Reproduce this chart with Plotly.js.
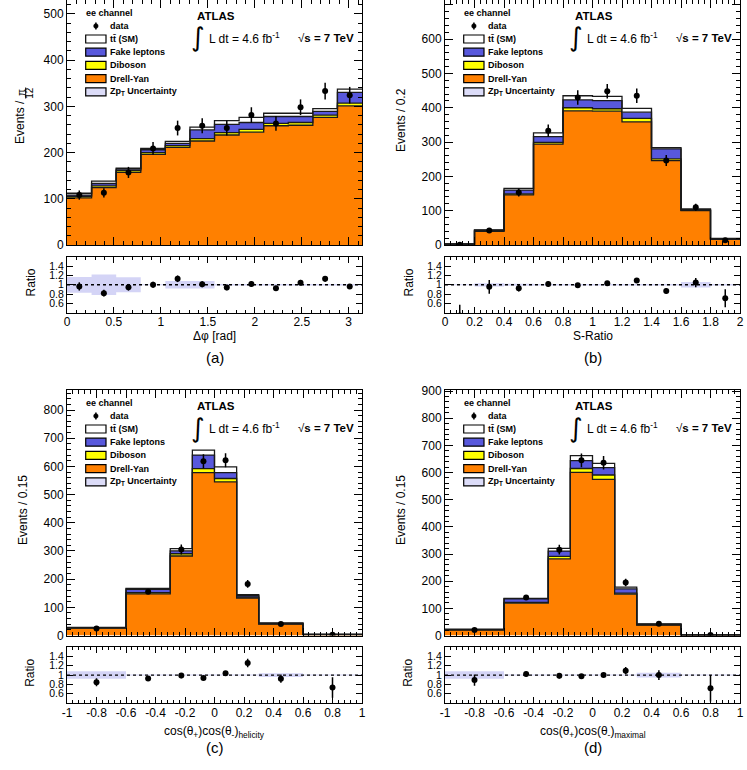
<!DOCTYPE html>
<html>
<head>
<meta charset="utf-8">
<script src="https://cdn.plot.ly/plotly-3.0.1.min.js"></script>
<style>
  html, body { margin: 0; padding: 0; background: #ffffff; }
  #chart { width: 747px; height: 770px; }
</style>
</head>
<body>
<div id="chart"></div>
<script>
// ---------------- data: (a) delta phi ----------------
const dphiEdges    = [0, 0.2618, 0.5236, 0.7854, 1.0472, 1.3090, 1.5708, 1.8326, 2.0944, 2.3562, 2.6180, 2.8798, 3.1416];
const dphiDrellYan = [102, 124, 157, 196, 211, 225, 238, 244, 258, 259, 276, 301];
const dphiDiboson  = [3, 4, 4, 4, 4, 5, 5, 6, 5, 6, 5, 6];
const dphiFake     = [3, 5, 3, 6, 5, 19, 18, 15, 15, 13, 8, 23];
const dphiTtbar    = [4, 5, 2, 3, 4, 6, 8, 11, 7, 7, 6, 7];
const dphiData     = [108, 113, 157, 209, 253, 258, 253, 281, 263, 298, 333, 324];
const dphiDataErr  = [10, 10, 12, 14, 16, 16, 16, 17, 16, 17, 18, 18];
const dphiZptUnc   = [0.17, 0.22, 0.16, 0.01, 0.08, 0.08, 0.015, 0.015, 0.015, 0.015, 0.015, 0.015];
const dphiTicks    = [0, 0.5, 1, 1.5, 2, 2.5, 3];
const dphiTickText = ['0', '0.5', '1', '1.5', '2', '2.5', '3'];

// ---------------- data: (b) S-Ratio ----------------
const sratioEdges    = [0, 0.2, 0.4, 0.6, 0.8, 1.0, 1.2, 1.4, 1.6, 1.8, 2.0];
const sratioDrellYan = [2.2, 40, 146, 294, 391, 390, 359, 246, 100, 16.5];
const sratioDiboson  = [0.2, 1, 3, 5, 9, 7, 10, 5, 1, 0.5];
const sratioFake     = [0.3, 2, 11, 17, 23, 24, 18, 29, 2, 1];
const sratioTtbar    = [0.3, 1, 5, 11, 12, 12, 11, 4, 2, 1];
const sratioData     = [1, 42, 153, 333, 430, 448, 435, 246, 110, 13.5];
const sratioDataErr  = [0.7, 6.5, 12, 18, 21, 21, 21, 16, 10.5, 3.7];
const sratioZptUnc   = [0.01, 0.035, 0.02, 0.015, 0.015, 0.015, 0.015, 0.015, 0.06, 0.015];
const sratioTicks    = [0, 0.2, 0.4, 0.6, 0.8, 1, 1.2, 1.4, 1.6, 1.8, 2];
const sratioTickText = ['0', '0.2', '0.4', '0.6', '0.8', '1', '1.2', '1.4', '1.6', '1.8', '2'];

// ---------------- data: (c) helicity basis ----------------
const cosEdges          = [-1, -0.6, -0.3, -0.15, 0, 0.15, 0.3, 0.6, 1];
const helicityDrellYan  = [26, 148, 282, 578, 545, 133, 40.5, 3.4];
const helicityDiboson   = [1, 4, 8, 14, 12, 3, 1, 0.2];
const helicityFake      = [1, 12, 10, 48, 21, 5, 1.5, 0.2];
const helicityTtbar     = [1, 3, 8, 18, 20, 4, 1.5, 0.3];
const helicityData      = [24.5, 155, 305, 618, 622, 183, 41, 3];
const helicityDataErr   = [2.5, 8, 17.5, 25, 25, 13.5, 4, 0.9];
const helicityZptUnc    = [0.08, 0.01, 0.01, 0.01, 0.01, 0.01, 0.04, 0.01];

// ---------------- data: (d) maximal basis ----------------
const maximalDrellYan   = [20.5, 119, 282, 601, 575, 152, 38.5, 1.7];
const maximalDiboson    = [0.5, 3, 9, 14, 16, 4, 1, 0.1];
const maximalFake       = [1, 13, 20, 29, 27, 16, 2, 0.1];
const maximalTtbar      = [1, 2, 10, 18, 16, 6, 1.5, 0.2];
const maximalData       = [20.5, 140, 316, 645, 636, 195, 43, 1.5];
const maximalDataErr    = [2.8, 7, 18, 25, 25, 14, 4.5, 0.6];
const maximalZptUnc     = [0.08, 0.01, 0.01, 0.01, 0.01, 0.01, 0.05, 0.01];

const cosTicks    = [-1, -0.8, -0.6, -0.4, -0.2, 0, 0.2, 0.4, 0.6, 0.8, 1];
const cosTickText = ['-1', '-0.8', '-0.6', '-0.4', '-0.2', '0', '0.2', '0.4', '0.6', '0.8', '1'];

const ratioTicks    = [0.6, 0.8, 1, 1.2, 1.4];
const ratioTickText = ['0.6', '0.8', '1', '1.2', '1.4'];

// ---------------- styling ----------------
const FONT = 'Liberation Sans, Arial, Helvetica, sans-serif';
const COL = {
  dy: '#ff8000',
  dib: '#ffff00',
  fake: '#5858dc',
  tt: '#ffffff',
  band: 'rgba(205,205,245,0.85)',
  bandLegend: '#dcdcf8',
  edge: '#1a1a1a'
};

const W = 747, H = 770;
const PX = v => v / W;        // pixel -> paper x
const PY = v => 1 - v / H;    // pixel -> paper y

const panels = [
  { edges: dphiEdges, dy: dphiDrellYan, dib: dphiDiboson, fake: dphiFake, tt: dphiTtbar,
    data: dphiData, err: dphiDataErr, unc: dphiZptUnc, ticks: dphiTicks, tickText: dphiTickText,
    yMax: 530, xMinor: 0.1, frame: { L: 67, R: 362, T: 0, B: 245, RT: 257, RB: 313 },
    xTitle: 'Δφ [rad]', xTitleDy: 23, tag: '(a)' },
  { edges: sratioEdges, dy: sratioDrellYan, dib: sratioDiboson, fake: sratioFake, tt: sratioTtbar,
    data: sratioData, err: sratioDataErr, unc: sratioZptUnc, ticks: sratioTicks, tickText: sratioTickText,
    yMax: 714, xMinor: 0.04, frame: { L: 445, R: 740, T: 0, B: 245, RT: 257, RB: 313 },
    xTitle: 'S-Ratio', xTitleDy: 23, tag: '(b)', yTitle: 'Events / 0.2' },
  { edges: cosEdges, dy: helicityDrellYan, dib: helicityDiboson, fake: helicityFake, tt: helicityTtbar,
    data: helicityData, err: helicityDataErr, unc: helicityZptUnc, ticks: cosTicks, tickText: cosTickText,
    yMax: 871, xMinor: 0.04, frame: { L: 67, R: 362, T: 390, B: 635.5, RT: 647.3, RB: 703.3 },
    xTitle: 'cos(θ<sub>+</sub>)cos(θ<sub>-</sub>)<sub>helicity</sub>', xTitleDy: 29, tag: '(c)', yTitle: 'Events / 0.15' },
  { edges: cosEdges, dy: maximalDrellYan, dib: maximalDiboson, fake: maximalFake, tt: maximalTtbar,
    data: maximalData, err: maximalDataErr, unc: maximalZptUnc, ticks: cosTicks, tickText: cosTickText,
    yMax: 904, xMinor: 0.04, frame: { L: 445, R: 740, T: 390, B: 635.5, RT: 647.3, RB: 703.3 },
    xTitle: 'cos(θ<sub>+</sub>)cos(θ<sub>-</sub>)<sub>maximal</sub>', xTitleDy: 29, tag: '(d)', yTitle: 'Events / 0.15' }
];

const traces = [];
const shapes = [];
const annotations = [];
const layout = {
  width: W, height: H,
  margin: { l: 0, r: 0, t: 0, b: 0 },
  paper_bgcolor: '#ffffff',
  plot_bgcolor: '#ffffff',
  showlegend: false,
  font: { family: FONT, size: 12, color: '#000000' },
  shapes: shapes,
  annotations: annotations
};

const addArr = (a, b) => a.map((v, i) => v + b[i]);
const step = arr => arr.concat([arr[arr.length - 1]]);   // values for an 'hv' step line over bin edges
const centers = e => e.slice(0, -1).map((v, i) => (v + e[i + 1]) / 2);

function axisCommon(fontSize) {
  return {
    showline: true, linecolor: '#000000', linewidth: 1, mirror: 'allticks',
    ticks: 'inside', tickcolor: '#000000', tickwidth: 1,
    showgrid: false, zeroline: false, fixedrange: true,
    tickfont: { family: FONT, size: fontSize || 12, color: '#000000' }
  };
}

function text(x, y, t, opts) {
  annotations.push(Object.assign({
    xref: 'paper', yref: 'paper', x: PX(x), y: PY(y), text: t, showarrow: false,
    xanchor: 'center', yanchor: 'middle',
    font: { family: FONT, size: 12, color: '#000000' }
  }, opts || {}));
}

panels.forEach((p, i) => {
  const m = 2 * i + 1, r = 2 * i + 2;
  const mx = m === 1 ? 'x' : 'x' + m, my = m === 1 ? 'y' : 'y' + m;
  const rx = 'x' + r, ry = 'y' + r;
  const f = p.frame;
  const xr = [p.edges[0], p.edges[p.edges.length - 1]];

  // axes
  layout[m === 1 ? 'xaxis' : 'xaxis' + m] = Object.assign(axisCommon(), {
    domain: [PX(f.L), PX(f.R)], range: xr, anchor: my,
    tickmode: 'array', tickvals: p.ticks, showticklabels: false, ticklen: 8,
    minor: { ticks: 'inside', tickmode: 'linear', tick0: p.edges[0], dtick: p.xMinor, ticklen: 4, tickcolor: '#000000', showgrid: false }
  });
  layout[m === 1 ? 'yaxis' : 'yaxis' + m] = Object.assign(axisCommon(), {
    domain: [PY(f.B), PY(f.T)], range: [0, p.yMax], anchor: mx,
    tickmode: 'linear', tick0: 0, dtick: 100, ticklen: 8,
    minor: { ticks: 'inside', tickmode: 'linear', tick0: 0, dtick: 20, ticklen: 4, tickcolor: '#000000', showgrid: false }
  });
  layout['xaxis' + r] = Object.assign(axisCommon(), {
    domain: [PX(f.L), PX(f.R)], range: xr, anchor: ry,
    tickmode: 'array', tickvals: p.ticks, ticktext: p.tickText, ticklen: 6, ticklabelstandoff: -2,
    minor: { ticks: 'inside', tickmode: 'linear', tick0: p.edges[0], dtick: p.xMinor, ticklen: 3, tickcolor: '#000000', showgrid: false }
  });
  layout['yaxis' + r] = Object.assign(axisCommon(10.5), {
    domain: [PY(f.RB), PY(f.RT)], range: [0.39, 1.6], anchor: rx,
    tickmode: 'array', tickvals: ratioTicks, ticktext: ratioTickText, ticklen: 6
  });

  // stacked MC histograms drawn as filled step lines
  const lvDY = p.dy;
  const lvDib = addArr(lvDY, p.dib);
  const lvFake = addArr(lvDib, p.fake);
  const lvTot = addArr(lvFake, p.tt);
  const layers = [
    [lvDY, COL.dy, 'tozeroy'],
    [lvDib, COL.dib, 'tonexty'],
    [lvFake, COL.fake, 'tonexty'],
    [lvTot, COL.tt, 'tonexty']
  ];
  layers.forEach(([lv, col, fill]) => {
    traces.push({
      type: 'scatter', mode: 'lines', x: p.edges, y: step(lv), xaxis: mx, yaxis: my,
      line: { shape: 'hv', color: COL.edge, width: 1.3 }, fill: fill, fillcolor: col,
      hoverinfo: 'skip'
    });
  });

  // data points
  const xc = centers(p.edges);
  traces.push({
    type: 'scatter', mode: 'markers', x: xc, y: p.data, xaxis: mx, yaxis: my,
    marker: { color: '#000000', size: 6, symbol: 'circle' },
    error_y: { type: 'data', array: p.err, visible: true, color: '#000000', thickness: 1.5, width: 0 },
    hoverinfo: 'skip'
  });

  // ratio panel: Z pT uncertainty band
  traces.push({
    type: 'scatter', mode: 'lines', x: p.edges, y: step(p.unc.map(u => 1 - u)), xaxis: rx, yaxis: ry,
    line: { shape: 'hv', width: 0, color: 'rgba(0,0,0,0)' }, hoverinfo: 'skip'
  });
  traces.push({
    type: 'scatter', mode: 'lines', x: p.edges, y: step(p.unc.map(u => 1 + u)), xaxis: rx, yaxis: ry,
    line: { shape: 'hv', width: 0, color: 'rgba(0,0,0,0)' }, fill: 'tonexty', fillcolor: COL.band,
    hoverinfo: 'skip'
  });
  // reference line at ratio = 1, across the full axis
  traces.push({
    type: 'scatter', mode: 'lines', x: xr, y: [1, 1], xaxis: rx, yaxis: ry,
    line: { color: '#000000', width: 1.3, dash: 'dot' }, hoverinfo: 'skip'
  });
  // data / prediction
  traces.push({
    type: 'scatter', mode: 'markers', x: xc, y: p.data.map((d, k) => d / lvTot[k]), xaxis: rx, yaxis: ry,
    marker: { color: '#000000', size: 6 },
    error_y: { type: 'data', array: p.err.map((e, k) => e / lvTot[k]), visible: true, color: '#000000', thickness: 1.5, width: 0 },
    hoverinfo: 'skip'
  });

  // legend block
  const L = f.L, T = f.T;
  const legFont = { family: FONT, size: 9, color: '#000000' };
  text(L + 17, T + 12.5, '<b>ee channel</b>', { xanchor: 'left', font: legFont });
  // data entry: marker with a vertical error bar
  shapes.push({ type: 'line', xref: 'paper', yref: 'paper', x0: PX(L + 28.9), x1: PX(L + 28.9), y0: PY(T + 22.5), y1: PY(T + 29.5), line: { color: '#000000', width: 1.5 } });
  shapes.push({ type: 'circle', xref: 'paper', yref: 'paper', x0: PX(L + 26.6), x1: PX(L + 31.2), y0: PY(T + 28.3), y1: PY(T + 23.7), fillcolor: '#000000', line: { color: '#000000', width: 0.5 } });
  text(L + 41.3, T + 26, '<b>data</b>', { xanchor: 'left', font: legFont });
  const entries = [
    [COL.tt, '<b>tt\u0304 (SM)</b>'],
    [COL.fake, '<b>Fake leptons</b>'],
    [COL.dib, '<b>Diboson</b>'],
    [COL.dy, '<b>Drell-Yan</b>'],
    [COL.bandLegend, '<b>Zp<sub>T</sub> Uncertainty</b>']
  ];
  entries.forEach(([col, lab], k) => {
    const yc = T + 39 + 13.2 * k;
    shapes.push({
      type: 'rect', xref: 'paper', yref: 'paper',
      x0: PX(L + 18.7), x1: PX(L + 39), y0: PY(yc + 4), y1: PY(yc - 4),
      fillcolor: col, line: { color: '#000000', width: 1.2 }
    });
    text(L + 41.3, yc, lab, { xanchor: 'left', font: legFont });
  });

  // experiment label
  text(L + 128, T + 16, '<b>ATLAS</b>', { xanchor: 'left', font: { family: FONT, size: 11.5, color: '#000000' } });
  text(L + 130.5, T + 37.5, '∫', { font: { family: 'DejaVu Sans, sans-serif', size: 26, color: '#000000' } });
  text(L + 139.7, T + 38, 'L dt = 4.6 fb<sup>-1</sup>', { xanchor: 'left', font: { family: FONT, size: 12, color: '#000000' } });
  text(L + 228.5, T + 38, '√<b>s = 7 TeV</b>', { xanchor: 'left', font: { family: FONT, size: 11.5, color: '#000000' } });

  // axis titles
  const xMid = (f.L + f.R) / 2;
  text(xMid, f.RB + p.xTitleDy, p.xTitle, { yanchor: 'middle' });
  text(xMid, f.RB + 44.5, p.tag, { font: { family: FONT, size: 15, color: '#000000' } });
  text(L - 36.5, (f.RT + f.RB) / 2 - 2, 'Ratio', { textangle: -90 });
  if (p.yTitle) {
    text(L - 44, T + 120, p.yTitle, { textangle: -90 });
  }
});

// (a) y title with a stacked fraction pi/12
text(20.5, 122.5, 'Events /', { textangle: -90 });
text(22, 93, 'π', { textangle: -90, font: { family: FONT, size: 10, color: '#000000' } });
text(29.8, 93, '12', { textangle: -90, font: { family: FONT, size: 10, color: '#000000' } });
shapes.push({ type: 'line', xref: 'paper', yref: 'paper', x0: PX(25.7), x1: PX(25.7), y0: PY(87.5), y1: PY(98.5), line: { color: '#000000', width: 1 } });

Plotly.newPlot('chart', traces, layout, { staticPlot: true, displayModeBar: false });
</script>
</body>
</html>
